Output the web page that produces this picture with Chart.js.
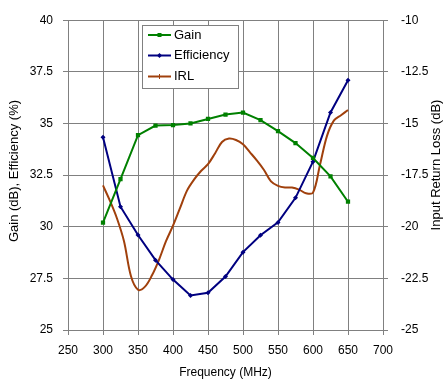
<!DOCTYPE html>
<html>
<head>
<meta charset="utf-8">
<script src="https://cdn.jsdelivr.net/npm/chart.js@4.4.1/dist/chart.umd.min.js"></script>
<style>
  body { margin: 0; background: #fff; }
  #wrap { width: 443px; height: 379px; }
</style>
</head>
<body>
<div id="wrap"><canvas id="chart" width="443" height="379"></canvas></div>
<script>
// Données
const freqs = [300, 325, 350, 375, 400, 425, 450, 475, 500, 525, 550, 575, 600, 625, 650];
const gain = [30.2, 32.3, 34.43, 34.9, 34.92, 35.0, 35.22, 35.43, 35.53, 35.16, 34.63, 34.05, 33.33, 32.44, 31.21];
const efficiency = [34.33, 30.97, 29.6, 28.38, 27.44, 26.67, 26.8, 27.59, 28.77, 29.59, 30.21, 31.4, 33.15, 35.53, 37.09];

const irlFreqs = [300, 310, 320, 330, 340, 350, 360, 370, 380, 390, 400, 410, 420, 430, 440, 450, 460, 470,
    480, 490, 500, 510, 520, 530, 540, 550, 560, 570, 580, 590, 600, 610, 620, 630, 640, 650];
const irl = [-18.0, -18.75, -19.6, -20.7, -22.4, -23.05, -22.9, -22.35, -21.6, -20.7, -19.95, -19.1, -18.25,
    -17.72, -17.3, -16.97, -16.45, -15.9, -15.73, -15.8, -16.01, -16.4, -16.8, -17.25, -17.8, -18.02, -18.1,
    -18.1, -18.2, -18.38, -18.35, -17.0, -15.6, -14.85, -14.6, -14.35];

const freqTicks = [250, 300, 350, 400, 450, 500, 550, 600, 650, 700];

const gridColor = '#808080';
const tickFont = { family: '"Liberation Sans", Arial, sans-serif', size: 12 };

// Fond blanc, titres des axes et légende dessinés à la main
const decorations = {
    id: 'decorations',
    beforeDraw(chart) {
        const ctx = chart.ctx;
        ctx.save();
        ctx.fillStyle = '#fff';
        ctx.fillRect(0, 0, chart.width, chart.height);
        ctx.restore();
    },
    afterDraw(chart) {
        const ctx = chart.ctx;
        const area = chart.chartArea;
        ctx.save();
        ctx.fillStyle = '#000';
        ctx.textAlign = 'center';
        ctx.textBaseline = 'middle';

        ctx.font = '12px "Liberation Sans", Arial, sans-serif';
        ctx.fillText('Frequency (MHz)', (area.left + area.right) / 2, 373);

        ctx.font = '13px "Liberation Sans", Arial, sans-serif';
        ctx.save();
        ctx.translate(14, 171);
        ctx.rotate(-Math.PI / 2);
        ctx.fillText('Gain (dB), Efficiency (%)', 0, 0);
        ctx.restore();

        ctx.save();
        ctx.translate(436, 165);
        ctx.rotate(-Math.PI / 2);
        ctx.fillText('Input Return Loss (dB)', 0, 0);
        ctx.restore();

        // Légende
        ctx.fillStyle = '#fff';
        ctx.strokeStyle = gridColor;
        ctx.lineWidth = 1;
        ctx.fillRect(142.5, 25.5, 96, 63);
        ctx.strokeRect(142.5, 25.5, 96, 63);

        const rows = [35, 55.5, 76.5];
        chart.data.datasets.forEach((ds, i) => {
            const y = rows[i];
            ctx.strokeStyle = ds.borderColor;
            ctx.lineWidth = 2;
            ctx.beginPath();
            ctx.moveTo(148, y);
            ctx.lineTo(171, y);
            ctx.stroke();
            ctx.fillStyle = ds.borderColor;
            const mx = 159.5;
            if (i === 0) {
                ctx.fillRect(mx - 2, y - 2, 4, 4);
            } else if (i === 1) {
                ctx.beginPath();
                ctx.moveTo(mx, y - 2.5);
                ctx.lineTo(mx + 2.5, y);
                ctx.lineTo(mx, y + 2.5);
                ctx.lineTo(mx - 2.5, y);
                ctx.closePath();
                ctx.fill();
            } else {
                ctx.lineWidth = 1;
                ctx.beginPath();
                ctx.moveTo(mx, y - 2.5);
                ctx.lineTo(mx, y + 2.5);
                ctx.stroke();
            }
            ctx.fillStyle = '#000';
            ctx.textAlign = 'left';
            ctx.font = '13px "Liberation Sans", Arial, sans-serif';
            ctx.fillText(ds.label, 174, y);
        });
        ctx.restore();
    }
};

const ctx = document.getElementById('chart').getContext('2d');
new Chart(ctx, {
    type: 'line',
    data: {
        datasets: [{
            label: 'Gain',
            data: freqs.map((f, i) => ({ x: f, y: gain[i] })),
            borderColor: '#008000',
            backgroundColor: '#008000',
            borderWidth: 2,
            pointStyle: 'rect',
            pointRadius: 3,
            pointBorderWidth: 0,
            tension: 0,
            yAxisID: 'y'
        }, {
            label: 'Efficiency',
            data: freqs.map((f, i) => ({ x: f, y: efficiency[i] })),
            borderColor: '#000080',
            backgroundColor: '#000080',
            borderWidth: 2,
            pointStyle: 'rectRot',
            pointRadius: 2.5,
            pointBorderWidth: 0,
            tension: 0,
            yAxisID: 'y'
        }, {
            label: 'IRL',
            data: irlFreqs.map((f, i) => ({ x: f, y: irl[i] })),
            borderColor: '#a0400c',
            backgroundColor: '#a0400c',
            borderWidth: 2,
            pointRadius: 0,
            tension: 0.35,
            yAxisID: 'y2'
        }]
    },
    options: {
        responsive: false,
        animation: false,
        // le haut de la zone = padding + moitié de la hauteur des étiquettes
        layout: { padding: { top: 9, left: 0, right: 0, bottom: 0 } },
        plugins: {
            legend: { display: false },
            tooltip: { enabled: false }
        },
        scales: {
            x: {
                type: 'linear',
                min: 250,
                max: 700,
                afterBuildTicks: (scale) => { scale.ticks = freqTicks.map(v => ({ value: v })); },
                afterFit: (scale) => { scale.height = 49; },
                grid: { color: gridColor, tickLength: 5 },
                border: { color: gridColor },
                ticks: { color: '#000', font: tickFont, padding: 8, maxRotation: 0 }
            },
            y: {
                position: 'left',
                min: 25,
                max: 40,
                afterFit: (scale) => { scale.width = 68; },
                grid: { color: gridColor, tickLength: 5 },
                border: { color: gridColor },
                ticks: { stepSize: 2.5, color: '#000', font: tickFont, padding: 10 }
            },
            y2: {
                position: 'right',
                min: -25,
                max: -10,
                afterFit: (scale) => { scale.width = 60; },
                grid: { drawOnChartArea: false, color: gridColor, tickLength: 5 },
                border: { color: gridColor },
                ticks: { stepSize: 2.5, color: '#000', font: tickFont, padding: 13 }
            }
        }
    },
    plugins: [decorations]
});
</script>
</body>
</html>
